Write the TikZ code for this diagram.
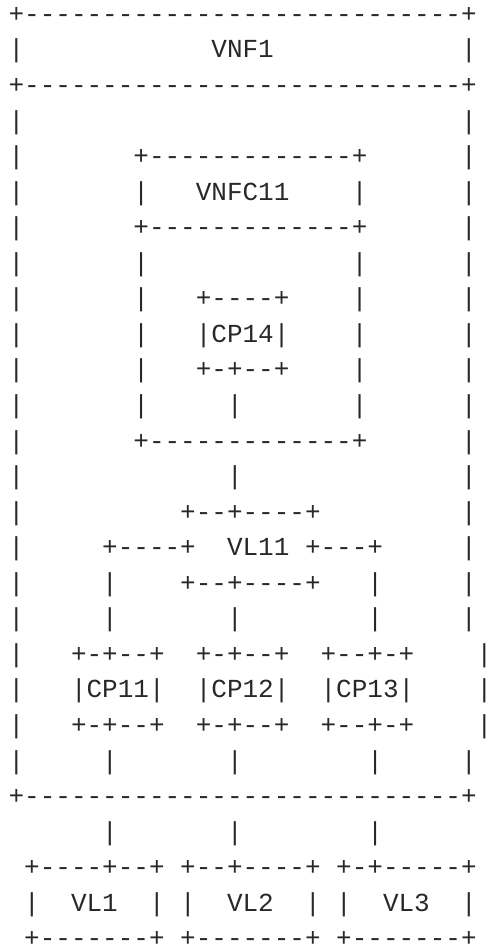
\documentclass[tikz,border=0pt]{standalone}
\usepackage{fontspec}
\setmonofont{Liberation Mono}
\ExplSyntaxOn
\cs_new:Npn \asciirep #1#2 { \prg_replicate:nn {#1} {#2} }
\ExplSyntaxOff
\newcommand{\Sp}[1]{\asciirep{#1}{~}}
\newcommand{\Da}[1]{\asciirep{#1}{-}}
\definecolor{ink}{RGB}{40,40,40}
\tikzset{
  asciirow/.style={anchor=base west, inner sep=0pt, outer sep=0pt, text=ink,
    font=\ttfamily\fontsize{26pt}{35.55pt}\selectfont}
}
\begin{document}
\begin{tikzpicture}[x=1pt,y=1pt]
\useasboundingbox (0,0) rectangle (485,-952);
\clip (0,0) rectangle (485,-952);
\def\rowy#1{-(58+(#1-2)*35.55)}
\node[asciirow] (r1)  at (8.6,{\rowy{1}})  {+\Da{28}+};
\node[asciirow] (r2)  at (8.6,{\rowy{2}})  {|\Sp{12}VNF1\Sp{12}|};
\node[asciirow] (r3)  at (8.6,{\rowy{3}})  {+\Da{28}+};
\node[asciirow] (r4)  at (8.6,{\rowy{4}})  {|\Sp{28}|};
\node[asciirow] (r5)  at (8.6,{\rowy{5}})  {|\Sp{7}+\Da{13}+\Sp{6}|};
\node[asciirow] (r6)  at (8.6,{\rowy{6}})  {|\Sp{7}|\Sp{3}VNFC11\Sp{4}|\Sp{6}|};
\node[asciirow] (r7)  at (8.6,{\rowy{7}})  {|\Sp{7}+\Da{13}+\Sp{6}|};
\node[asciirow] (r8)  at (8.6,{\rowy{8}})  {|\Sp{7}|\Sp{13}|\Sp{6}|};
\node[asciirow] (r9)  at (8.6,{\rowy{9}})  {|\Sp{7}|\Sp{3}+\Da{4}+\Sp{4}|\Sp{6}|};
\node[asciirow] (r10) at (8.6,{\rowy{10}}) {|\Sp{7}|\Sp{3}|CP14|\Sp{4}|\Sp{6}|};
\node[asciirow] (r11) at (8.6,{\rowy{11}}) {|\Sp{7}|\Sp{3}+-+\Da{2}+\Sp{4}|\Sp{6}|};
\node[asciirow] (r12) at (8.6,{\rowy{12}}) {|\Sp{7}|\Sp{5}|\Sp{7}|\Sp{6}|};
\node[asciirow] (r13) at (8.6,{\rowy{13}}) {|\Sp{7}+\Da{13}+\Sp{6}|};
\node[asciirow] (r14) at (8.6,{\rowy{14}}) {|\Sp{13}|\Sp{14}|};
\node[asciirow] (r15) at (8.6,{\rowy{15}}) {|\Sp{10}+\Da{2}+\Da{4}+\Sp{9}|};
\node[asciirow] (r16) at (8.6,{\rowy{16}}) {|\Sp{5}+\Da{4}+\Sp{2}VL11\Sp{1}+\Da{3}+\Sp{5}|};
\node[asciirow] (r17) at (8.6,{\rowy{17}}) {|\Sp{5}|\Sp{4}+\Da{2}+\Da{4}+\Sp{3}|\Sp{5}|};
\node[asciirow] (r18) at (8.6,{\rowy{18}}) {|\Sp{5}|\Sp{7}|\Sp{8}|\Sp{5}|};
\node[asciirow] (r19) at (8.6,{\rowy{19}}) {|\Sp{3}+-+\Da{2}+\Sp{2}+-+\Da{2}+\Sp{2}+\Da{2}+-+\Sp{4}|};
\node[asciirow] (r20) at (8.6,{\rowy{20}}) {|\Sp{3}|CP11|\Sp{2}|CP12|\Sp{2}|CP13|\Sp{4}|};
\node[asciirow] (r21) at (8.6,{\rowy{21}}) {|\Sp{3}+-+\Da{2}+\Sp{2}+-+\Da{2}+\Sp{2}+\Da{2}+-+\Sp{4}|};
\node[asciirow] (r22) at (8.6,{\rowy{22}}) {|\Sp{5}|\Sp{7}|\Sp{8}|\Sp{5}|};
\node[asciirow] (r23) at (8.6,{\rowy{23}}) {+\Da{28}+};
\node[asciirow] (r24) at (8.6,{\rowy{24}}) {\Sp{6}|\Sp{7}|\Sp{8}|};
\node[asciirow] (r25) at (8.6,{\rowy{25}}) {\Sp{1}+\Da{4}+\Da{2}+\Sp{1}+\Da{2}+\Da{4}+\Sp{1}+-+\Da{5}+};
\node[asciirow] (r26) at (8.6,{\rowy{26}}) {\Sp{1}|\Sp{2}VL1\Sp{2}|\Sp{1}|\Sp{2}VL2\Sp{2}|\Sp{1}|\Sp{2}VL3\Sp{2}|};
\node[asciirow] (r27) at (8.6,{\rowy{27}}) {\Sp{1}+\Da{7}+\Sp{1}+\Da{7}+\Sp{1}+\Da{7}+};
\end{tikzpicture}
\end{document}
